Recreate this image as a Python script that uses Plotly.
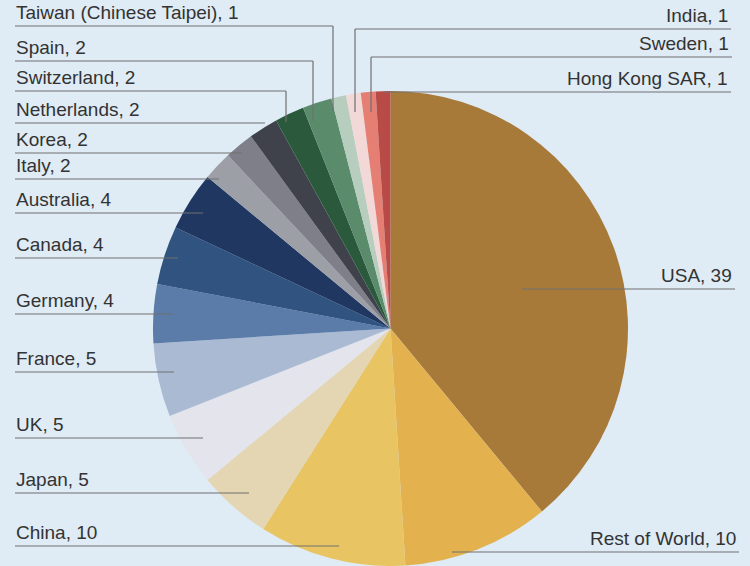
import plotly.graph_objects as go

# ---- data (clockwise from 12 o'clock) ----
countries = ["USA", "Rest of World", "China", "Japan", "UK", "France", "Germany",
             "Canada", "Australia", "Italy", "Korea", "Netherlands", "Switzerland",
             "Spain", "Taiwan (Chinese Taipei)", "India", "Sweden", "Hong Kong SAR"]
values = [39, 10, 10, 5, 5, 5, 4, 4, 4, 2, 2, 2, 2, 2, 1, 1, 1, 1]

colors = ["#a77a3a", "#e3b24f", "#e8c462", "#e4d5b3", "#e3e4ec", "#aabad3",
          "#5b7ba8", "#30537f", "#1f3761", "#9d9fa7", "#7e7f88", "#40424b",
          "#2a5a3b", "#5a8b6b", "#b7cdbd", "#f2d8d6", "#e57e73", "#b84b46"]

W, H = 750, 566
BG = "#dfebf5"
LINE = "#707070"
TEXT = "#333333"

# label layout (pixels): side, underline y, inner x of underline, optional vertical drop end y
label_layout = {
    "Taiwan (Chinese Taipei)": ("L", 26, 333, 111),
    "Spain": ("L", 61, 313, 121),
    "Switzerland": ("L", 91, 286, 122),
    "Netherlands": ("L", 123, 265, None),
    "Korea": ("L", 153, 242, None),
    "Italy": ("L", 179, 219, None),
    "Australia": ("L", 213, 203, None),
    "Canada": ("L", 258, 178, None),
    "Germany": ("L", 314, 174, None),
    "France": ("L", 372, 174, None),
    "UK": ("L", 438, 203, None),
    "Japan": ("L", 493, 249, None),
    "China": ("L", 546, 339, None),
    "India": ("R", 29, 355, 112),
    "Sweden": ("R", 57, 371, 112),
    "Hong Kong SAR": ("R", 92, 383, None),
    "USA": ("R", 289, 522, None),
    "Rest of World": ("R", 552, 452, None),
}
LEFT_X = 15
RIGHT_X = {"India": 731, "Sweden": 732, "Hong Kong SAR": 731, "USA": 735, "Rest of World": 739}

def px(x):
    return x / W

def py(y):
    return 1 - y / H

fig = go.Figure(go.Pie(
    labels=countries, values=values, sort=False, direction="clockwise",
    rotation=0, marker=dict(colors=colors, line=dict(width=0)),
    textinfo="none", hoverinfo="label+value",
    domain=dict(x=[153 / W, 628 / W], y=[0, 475 / H]),
    showlegend=False,
))

shapes = []
annotations = []
for name, v in zip(countries, values):
    side, ly, ix, drop = label_layout[name]
    if side == "L":
        x0, x1 = LEFT_X, ix
        xanchor = "left"
        ann_x = LEFT_X - 1
    else:
        x0, x1 = ix, RIGHT_X[name]
        xanchor = "right"
        ann_x = RIGHT_X[name] - 1
    shapes.append(dict(type="line", xref="paper", yref="paper",
                       x0=px(x0), x1=px(x1), y0=py(ly), y1=py(ly),
                       line=dict(color=LINE, width=1.2)))
    if drop is not None:
        shapes.append(dict(type="line", xref="paper", yref="paper",
                           x0=px(ix), x1=px(ix), y0=py(ly), y1=py(drop),
                           line=dict(color=LINE, width=1.2)))
    annotations.append(dict(
        text=f"{name}, {v}", xref="paper", yref="paper",
        x=px(ann_x), y=py(ly - 1), xanchor=xanchor, yanchor="bottom",
        showarrow=False, font=dict(family="Liberation Sans, Arial, sans-serif",
                                   size=19, color=TEXT)))

fig.update_layout(
    width=W, height=H, margin=dict(l=0, r=0, t=0, b=0),
    paper_bgcolor=BG, plot_bgcolor=BG,
    shapes=shapes, annotations=annotations,
)

fig.write_html("out.html")
